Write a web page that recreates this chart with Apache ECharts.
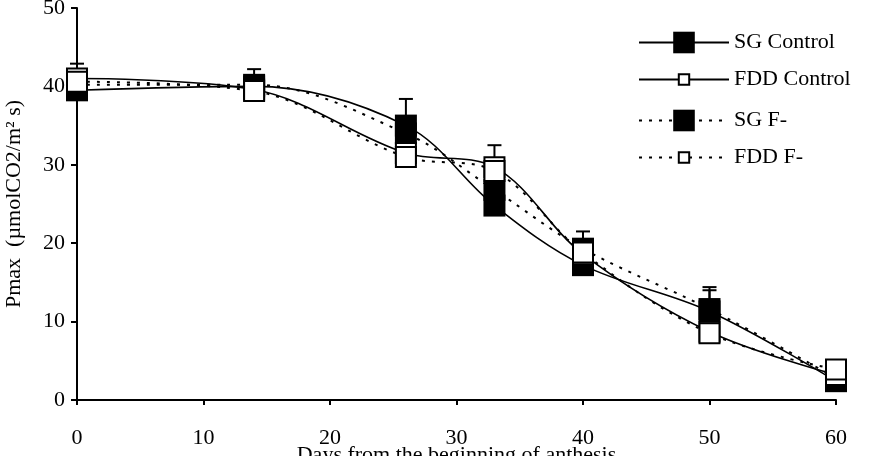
<!DOCTYPE html>
<html>
<head>
<meta charset="utf-8">
<script src="https://cdn.jsdelivr.net/npm/echarts@6/dist/echarts.min.js"></script>
<style>
  html, body { margin: 0; padding: 0; background: #fff; }
  #chart { width: 885px; height: 456px; }
</style>
</head>
<body>
<div id="chart"></div>
<script>
// days from the beginning of anthesis
const days = [0, 14, 26, 33, 40, 50, 60];
// Pmax values
const sgControl = [39.5, 40.0, 35.0, 24.8, 17.2, 11.3, 2.4];
const fddControl = [41.0, 39.6, 31.5, 29.7, 18.6, 8.7, 3.2];
const sgF = [40.2, 40.2, 34.0, 26.8, 19.3, 11.6, 2.8];
const fddF = [40.6, 39.4, 31.0, 29.2, 18.8, 8.5, 3.9];
// error bars: x, bottom, top
const errX = [0, 14, 26, 33, 40, 50, 50];
const errLow = [40.5, 40.0, 34.5, 29.5, 19.0, 11.3, 11.3];
const errHigh = [42.9, 42.2, 38.4, 32.5, 21.5, 14.4, 14.0];

const font = 'Liberation Serif';
const fs = 22;
const chart = echarts.init(document.getElementById('chart'));

const pairs = (ys) => days.map((d, i) => [d, ys[i]]);

const solid = { color: '#000', width: 1.6, type: 'solid' };
const dotted = { color: '#000', width: 2, type: [3, 7] };
const black = { color: '#000', borderColor: '#000', borderWidth: 0 };
const white = { color: '#fff', borderColor: '#000', borderWidth: 2 };

function lineSeries(name, ys, lineStyle, itemStyle, size, z) {
  return {
    name: name,
    type: 'line',
    data: pairs(ys),
    smooth: 0.35,
    symbol: 'rect',
    symbolSize: size,
    showAllSymbol: true,
    lineStyle: lineStyle,
    itemStyle: itemStyle,
    z: z,
    emphasis: { disabled: true },
    animation: false
  };
}

// one legend per row so the square can have its own size
function legendFor(name, top, h) {
  return {
    data: [name],
    left: 633,
    top: top,
    itemWidth: 90,
    itemHeight: h,
    textStyle: { fontFamily: font, fontSize: fs, color: '#000' },
    selectedMode: false
  };
}

const option = {
  backgroundColor: '#fff',
  animation: false,
  grid: { left: 77, right: 49, top: 8, bottom: 56, outerBoundsMode: 'none', containLabel: false },
  legend: [
    legendFor('SG Control', 26.5, 27),
    legendFor('FDD Control', 63.5, 13),
    legendFor('SG F-', 104.5, 27),
    legendFor('FDD F-', 141.5, 13)
  ],
  xAxis: {
    type: 'value',
    min: 0,
    max: 60,
    interval: 10,
    name: 'Days from the beginning of anthesis',
    nameLocation: 'middle',
    nameGap: 44,
    nameMoveOverlap: false,
    nameTextStyle: { fontFamily: font, fontSize: fs, color: '#000' },
    axisLine: { lineStyle: { color: '#000', width: 2 } },
    axisTick: { show: true, inside: false, length: 5, lineStyle: { color: '#000', width: 2 } },
    axisLabel: { margin: 27, fontFamily: font, fontSize: fs, color: '#000' },
    splitLine: { show: false }
  },
  yAxis: {
    type: 'value',
    min: 0,
    max: 50,
    interval: 10,
    name: 'Pmax  (\u00b5molCO2/m\u00b2 s)',
    nameLocation: 'middle',
    nameGap: 52,
    nameMoveOverlap: false,
    nameTextStyle: { fontFamily: font, fontSize: fs, color: '#000' },
    axisLine: { show: true, lineStyle: { color: '#000', width: 2 } },
    axisTick: { show: true, inside: false, length: 6, lineStyle: { color: '#000', width: 2 } },
    axisLabel: { margin: 12, fontFamily: font, fontSize: fs, color: '#000' },
    splitLine: { show: false }
  },
  series: [
    {
      type: 'custom',
      name: 'err',
      z: 1,
      silent: true,
      data: errX.map((x, i) => [x, errLow[i], errHigh[i]]),
      renderItem: function (params, api) {
        const lo = api.coord([api.value(0), api.value(1)]);
        const hi = api.coord([api.value(0), api.value(2)]);
        const w = 7;
        const st = { stroke: '#000', lineWidth: 2 };
        return {
          type: 'group',
          children: [
            { type: 'line', shape: { x1: lo[0], y1: lo[1], x2: hi[0], y2: hi[1] }, style: st },
            { type: 'line', shape: { x1: hi[0] - w, y1: hi[1], x2: hi[0] + w, y2: hi[1] }, style: st }
          ]
        };
      }
    },
    lineSeries('SG Control', sgControl, solid, black, 22, 3),
    lineSeries('FDD Control', fddControl, solid, white, 20, 4),
    lineSeries('SG F-', sgF, dotted, black, 22, 3),
    lineSeries('FDD F-', fddF, dotted, white, 20, 4)
  ]
};

chart.setOption(option);
</script>
</body>
</html>
